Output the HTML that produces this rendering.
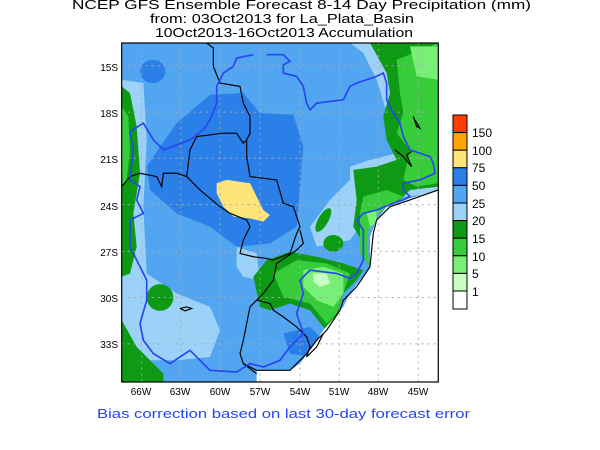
<!DOCTYPE html>
<html><head><meta charset="utf-8"><style>
html,body{margin:0;padding:0;background:#fff;}
svg{display:block;font-family:"Liberation Sans",sans-serif;}
</style></head><body>
<svg width="600" height="450" viewBox="0 0 600 450">
<rect width="600" height="450" fill="#fff"/>
<g font-size="12.5" fill="#000">
<text x="72" y="9" textLength="459" lengthAdjust="spacingAndGlyphs">NCEP GFS Ensemble Forecast 8-14 Day Precipitation (mm)</text>
<text x="150" y="23" textLength="264" lengthAdjust="spacingAndGlyphs">from: 03Oct2013   for La_Plata_Basin</text>
<text x="155" y="37" textLength="258" lengthAdjust="spacingAndGlyphs">10Oct2013-16Oct2013 Accumulation</text>
</g>
<svg x="121.7" y="43" width="316.6" height="339" viewBox="35 10 950 1015" preserveAspectRatio="none">
<g>
<rect x="0" y="0" width="1100" height="1100" fill="#52a5f0"/>
<polygon fill="#9dd2f8" points="35,120 100,130 110,300 100,500 110,700 200,760 300,800 330,870 300,950 200,960 120,960 35,960"/>
<polygon fill="#9dd2f8" points="380,620 440,640 450,720 400,710 380,680"/>
<polygon fill="#9dd2f8" points="720,10 985,10 985,460 880,470 780,520 720,600 620,620 600,560 660,480 720,420 720,380 780,360 860,340 840,250 800,120 760,40"/>
<polygon fill="#2b7fe8" points="150,320 200,250 300,165 400,160 450,220 550,225 580,320 570,440 560,560 480,610 380,620 300,560 200,520 120,450 110,380"/>
<ellipse cx="128" cy="95" rx="38" ry="35" fill="#2b7fe8"/>
<polygon fill="#2b7fe8" points="520,880 600,860 640,900 600,950 540,940"/>
<polygon fill="#ffe47a" points="320,430 350,420 420,430 440,470 460,510 480,525 460,545 420,535 370,530 340,500 320,460"/>
<polygon fill="#0e9a14" points="780,10 985,10 985,440 900,450 860,490 800,500 760,520 750,560 760,610 730,560 740,480 730,390 800,380 860,360 830,300 820,230 840,160 830,100"/>
<polygon fill="#36cc3a" points="860,60 985,10 985,430 920,440 880,420 900,330 860,280 880,220 870,160"/>
<polygon fill="#78f078" points="900,20 985,20 985,120 920,110"/>
<polygon fill="#36cc3a" points="760,470 830,450 880,470 820,510 780,540 770,620 780,680 750,640 750,520"/>
<polygon fill="#78f078" points="770,520 800,510 800,550 780,560"/>
<ellipse cx="640" cy="540" rx="15" ry="40" fill="#0e9a14" transform="rotate(30 640 540)"/>
<ellipse cx="670" cy="610" rx="30" ry="25" fill="#0e9a14"/>
<polygon fill="#0e9a14" points="430,710 470,660 540,635 620,650 700,670 760,690 740,720 700,760 680,830 650,870 640,860 600,810 540,790 480,810 450,800"/>
<polygon fill="#36cc3a" points="490,700 560,660 650,670 720,700 700,760 680,820 650,850 600,790 520,770"/>
<polygon fill="#78f078" points="580,690 640,680 700,700 700,760 670,800 620,780 580,740"/>
<polygon fill="#c8fcc0" points="610,700 650,700 660,730 630,740 610,725"/>
<polygon fill="#0e9a14" points="35,140 60,160 80,260 90,400 70,520 80,620 60,700 35,710"/>
<polygon fill="#36cc3a" points="35,200 55,230 60,330 50,420 35,440"/>
<polygon fill="#0e9a14" points="35,840 80,920 160,1000 160,1025 35,1025"/>
<ellipse cx="150" cy="772" rx="40" ry="40" fill="#0e9a14"/>
<polygon fill="#fff" points="985,450 900,475 830,500 800,540 780,590 780,680 720,760 700,800 640,870 600,930 570,970 540,990 440,990 440,1030 990,1030"/>
<g stroke="#aaa" stroke-width="3" stroke-dasharray="6,12" fill="none">
<line x1="95" y1="10" x2="95" y2="1025"/><line x1="212" y1="10" x2="212" y2="1025"/>
<line x1="330" y1="10" x2="330" y2="1025"/><line x1="450" y1="10" x2="450" y2="1025"/>
<line x1="570" y1="10" x2="570" y2="1025"/><line x1="688" y1="10" x2="688" y2="1025"/>
<line x1="805" y1="10" x2="805" y2="1025"/><line x1="925" y1="10" x2="925" y2="1025"/>
<line x1="35" y1="78" x2="985" y2="78"/><line x1="35" y1="217" x2="985" y2="217"/>
<line x1="35" y1="355" x2="985" y2="355"/><line x1="35" y1="494" x2="985" y2="494"/>
<line x1="35" y1="634" x2="985" y2="634"/><line x1="35" y1="772" x2="985" y2="772"/>
<line x1="35" y1="911" x2="985" y2="911"/>
</g>
<g stroke="#000" stroke-width="3.5" fill="none">
<polyline points="290,10 310,25 310,80 330,130 390,140 400,190 420,230 420,280 410,300 400,310 380,280 340,280 260,290 240,330 230,410 200,400 160,400 155,440 140,410 90,400 60,410 35,440"/>
<polyline points="230,410 270,450 330,500 360,520 410,540 420,560 400,600 390,640 430,650 470,655 490,660 540,640 560,580 570,560 550,500 520,490 500,420 420,410 410,350 410,300"/>
<polyline points="570,570 580,610 560,630 530,650 500,670 490,720 460,760 440,780 420,800 410,850 400,900 390,940 400,970 440,1000"/>
<polyline points="440,780 480,790 490,810 520,830 560,860 590,890 600,920 590,950 620,920 640,880"/>
<polyline points="985,450 900,480 840,500 800,540 790,580 780,680 740,740 700,780 690,810 650,870 620,900 590,940 540,990 440,990 400,970"/>
<polyline points="910,230 920,260 930,265 915,240"/>
<polyline points="855,330 880,350 905,380 890,345 905,335"/>
<polyline points="210,805 230,800 245,805 225,812 210,805"/>
</g>
<polyline fill="none" stroke="#2646f0" stroke-width="5" points="430,45 380,55 370,80 340,100 320,140 320,190 300,240 280,270 240,300 160,330 130,300 100,250 60,275 70,330 60,420 90,440 80,480 100,520 60,540 60,620 90,680 110,720 110,780 90,850 100,900 130,940 180,970 240,930 270,960 300,990 380,995 420,970 460,980 510,960 540,920 580,880 560,820 580,760 570,720 600,690 680,700 720,715 740,700 760,660 760,620 760,570 740,540 760,520 800,510 850,490 880,480 900,470 880,450 880,430 930,420 975,400 970,370 960,350 900,330 880,290 870,250 850,220 830,180 830,130 820,100 800,110 740,130 720,140 700,180 660,185 620,190 600,210 590,190 580,140 560,110 520,100 520,75 540,65 520,45 470,45"/>
</g>
</svg>
<rect x="121.7" y="43" width="316.6" height="339" fill="none" stroke="#000" stroke-width="1.2"/>
<g font-size="10" fill="#000" text-anchor="end">
<text x="118" y="71">15S</text><text x="118" y="117">18S</text><text x="118" y="163">21S</text>
<text x="118" y="210">24S</text><text x="118" y="256">27S</text><text x="118" y="302">30S</text>
<text x="118" y="348">33S</text>
</g>
<g font-size="10" fill="#000" text-anchor="middle">
<text x="141" y="395">66W</text><text x="180" y="395">63W</text><text x="220" y="395">60W</text>
<text x="260" y="395">57W</text><text x="300" y="395">54W</text><text x="339" y="395">51W</text>
<text x="378" y="395">48W</text><text x="418" y="395">45W</text>
</g>
<g stroke="#000" stroke-width="1">
<rect x="453" y="115" width="14" height="17.6" fill="#ff3d00"/>
<rect x="453" y="132.6" width="14" height="17.6" fill="#ffa500"/>
<rect x="453" y="150.2" width="14" height="17.6" fill="#ffe47a"/>
<rect x="453" y="167.8" width="14" height="17.6" fill="#2b7fe8"/>
<rect x="453" y="185.4" width="14" height="17.6" fill="#52a5f0"/>
<rect x="453" y="203" width="14" height="17.6" fill="#9dd2f8"/>
<rect x="453" y="220.6" width="14" height="17.6" fill="#0e9a14"/>
<rect x="453" y="238.2" width="14" height="17.6" fill="#36cc3a"/>
<rect x="453" y="255.8" width="14" height="17.6" fill="#78f078"/>
<rect x="453" y="273.4" width="14" height="17.6" fill="#c8fcc0"/>
<rect x="453" y="291" width="14" height="18" fill="#fff"/>
</g>
<g font-size="12" fill="#000">
<text x="472" y="137">150</text><text x="472" y="155">100</text><text x="472" y="172">75</text>
<text x="472" y="190">50</text><text x="472" y="208">25</text><text x="472" y="225">20</text>
<text x="472" y="243">15</text><text x="472" y="261">10</text><text x="472" y="278">5</text>
<text x="472" y="296">1</text>
</g>
<text x="97" y="418" font-size="12.5" fill="#2646f0" textLength="373" lengthAdjust="spacingAndGlyphs">Bias correction based on last 30-day forecast error</text>
</svg>
</body></html>
